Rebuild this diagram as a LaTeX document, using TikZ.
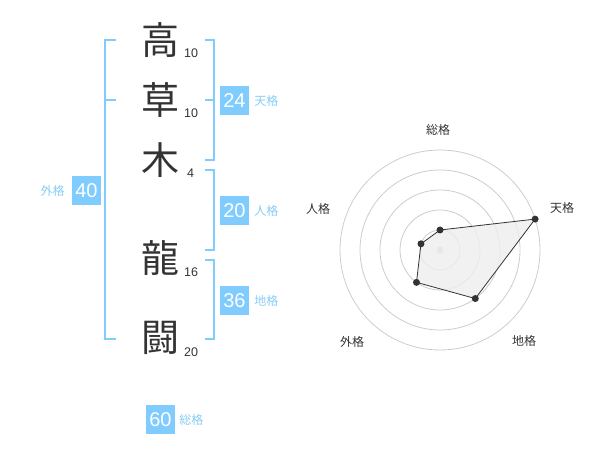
\documentclass[tikz,border=0pt]{standalone}
\usepackage{fontspec}
\setmainfont{Liberation Sans}
\newfontfamily\cjk{Noto Sans CJK JP}
\usepackage{tikz}
\usetikzlibrary{calc, positioning}
\definecolor{kakusky}{RGB}{128,204,255}
\definecolor{kakutext}{RGB}{136,204,247}
\definecolor{ink}{RGB}{51,51,51}
\definecolor{ringgray}{RGB}{204,204,204}
\definecolor{areagray}{RGB}{238,238,238}

\begin{document}
\begin{tikzpicture}[x=1pt, y=-1pt,
        kanji/.style={text=ink, inner sep=0pt, font=\cjk\fontsize{38}{38}\selectfont},
        strokes/.style={text=ink, inner sep=0pt, anchor=west, font=\fontsize{12.5}{12.5}\selectfont},
        kakubox/.style={fill=kakusky, text=white, minimum size=29pt, inner sep=0pt, font=\fontsize{20}{20}\selectfont},
        kakulabel/.style={text=kakutext, inner sep=1pt, font=\cjk\fontsize{12}{12}\selectfont},
        bracket/.style={draw=kakusky, line width=2pt},
        axislabel/.style={text=ink, inner sep=0pt, font=\cjk\fontsize{12}{12}\selectfont},
        dot/.style={circle, fill=ink, minimum size=7pt, inner sep=0pt}]
        \useasboundingbox (0,0) rectangle (600,470);

        % name
        \node[kanji](c1) at (160,40){高};
        \node[kanji](c2) at (160,100){草};
        \node[kanji](c3) at (160,160){木};
        \node[kanji](c4) at (160,258){龍};
        \node[kanji](c5) at (160,338){闘};

        \node[strokes](n1) at (184,53){10};
        \node[strokes](n2) at (184,113){10};
        \node[strokes](n3) at (187,173){4};
        \node[strokes](n4) at (184,272){16};
        \node[strokes](n5) at (184,352){20};

        % brackets
        \coordinate (gaiT) at (116,40);
        \coordinate (gaiM) at (116,100);
        \coordinate (gaiB) at (116,339);
        \coordinate (tenT) at (205,40);
        \coordinate (tenM) at (205,100);
        \coordinate (tenB) at (205,160);
        \coordinate (jinT) at (205,170);
        \coordinate (jinB) at (205,250);
        \coordinate (chiT) at (205,260);
        \coordinate (chiB) at (205,339);

        \draw[bracket] (gaiT) -- ++(-11,0) |- (gaiB);
        \draw[bracket] (gaiM) -- ++(-11,0);
        \draw[bracket] (tenT) -- ++(9,0) |- (tenB);
        \draw[bracket] (tenM) -- ++(9,0);
        \draw[bracket] (jinT) -- ++(9,0) |- (jinB);
        \draw[bracket] (chiT) -- ++(9,0) |- (chiB);

        % scores
        \node[kakubox](ten) at (234.5,100.5){24};
        \node[kakubox](jin) at (234.5,211){20};
        \node[kakubox](chi) at (234.5,300.5){36};
        \node[kakubox](gai) at (86.5,190.5){40};
        \node[kakubox](sou) at (160.5,419.5){60};

        \node[kakulabel](tenL)[right = 4pt of ten]{天格};
        \node[kakulabel](jinL)[right = 4pt of jin]{人格};
        \node[kakulabel](chiL)[right = 4pt of chi]{地格};
        \node[kakulabel](gaiL)[left = 6pt of gai]{外格};
        \node[kakulabel](souL)[right = 3pt of sou]{総格};

        % radar
        \begin{scope}[shift={(440,250)}, yscale=-1]
            \foreach \r in {20,40,60,80,100}
                \draw[ringgray, line width=0.8pt] (0,0) circle (\r);
            \node[circle, fill=ringgray, minimum size=7pt, inner sep=0pt](mid) at (0,0){};

            \coordinate (pSou) at (90:20);
            \coordinate (pTen) at (18:100);
            \coordinate (pChi) at (-54:60);
            \coordinate (pGai) at (-126:40);
            \coordinate (pJin) at (162:20);

            \filldraw[fill=areagray, fill opacity=0.8, draw=ink, line width=0.8pt]
            (pSou) -- (pTen) -- (pChi) -- (pGai) -- (pJin) -- cycle;

            \foreach \p in {pSou, pTen, pChi, pGai, pJin}
                \node[dot] at (\p){};

            \node[axislabel](aSou) at (-2,120){総格};
            \node[axislabel](aTen) at (122,42){天格};
            \node[axislabel](aJin) at (-122,41){人格};
            \node[axislabel](aGai) at (-88,-92){外格};
            \node[axislabel](aChi) at (84,-91){地格};
        \end{scope}
    \end{tikzpicture}
\end{document}
